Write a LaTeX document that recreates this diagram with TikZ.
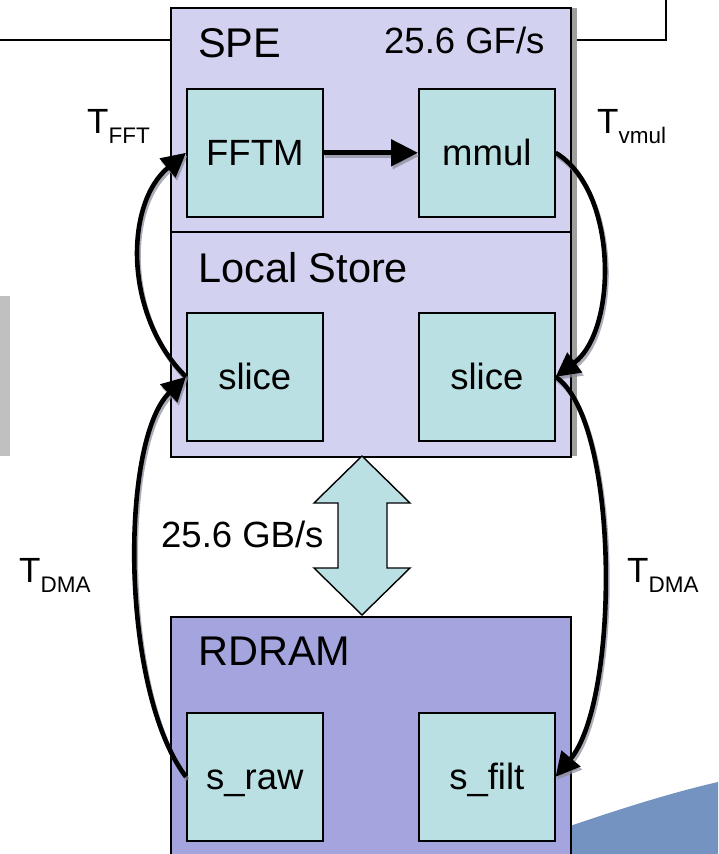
\documentclass[tikz,border=0pt]{standalone}
\usepackage{fontspec}
\setmainfont{Liberation Sans}
\usetikzlibrary{arrows.meta}
\definecolor{lav}{HTML}{D2D2F0}
\definecolor{cyanbox}{HTML}{BAE0E3}
\definecolor{rdramc}{HTML}{A4A4DF}
\definecolor{swooshc}{HTML}{7593C0}
\definecolor{barg}{HTML}{C0C0C0}
\definecolor{shadowc}{HTML}{8A8A9A}
\newcommand{\titlefnt}{\fontsize{41.5}{48}\selectfont}
\newcommand{\labfnt}{\fontsize{36.5}{42}\selectfont}
\newcommand{\tfnt}{\fontsize{35}{40}\selectfont}
\newcommand{\subfnt}{\fontsize{22.5}{26}\selectfont}
\begin{document}
\begin{tikzpicture}[x=1pt,y=-1pt,
  region/.style={draw=black,line width=1.6pt,inner sep=0pt,anchor=north west,minimum width=400pt},
  cell/.style={draw=black,line width=1.6pt,fill=cyanbox,inner sep=0pt,anchor=north west,
    minimum width=136pt,minimum height=128pt,text height=26pt,text depth=0pt,font=\labfnt},
  txt/.style={inner sep=0pt,anchor=base west},
  conn/.style={line width=4.6pt,-{Triangle[length=24pt,width=24pt]}},
  straightconn/.style={line width=5pt,-{Triangle[length=27pt,width=26pt]}},
  wire/.style={draw=black,line width=1.6pt}
]
\useasboundingbox (0,0) rectangle (718,854);

% background decoration
\fill[swooshc] (570,826) .. controls (620,809) and (670,793) .. (718,782) -- (718,854) -- (570,854) -- cycle;
\fill[barg] (0,296) rectangle (10,456);

% shadow of SPE / Local Store block
\fill[gray!75] (570,8) rectangle (577,456);

% regions
\node[region,fill=lav,minimum height=224pt] (spe) at (170,7) {};
\node[region,fill=lav,minimum height=225pt] (ls) at (170,231) {};
\node[region,fill=rdramc,minimum height=260pt] (rd) at (170,616) {};

% wires at top
\coordinate (wl) at (0,40);
\coordinate (wr) at (577,40);
\coordinate (wc) at (666,40);
\coordinate (wt) at (666,0);
\draw[wire] (wl) -- (spe.west |- wl);
\draw[wire] (wr) -- (wc) -- (wt);

% cells
\node[cell] (fftm) at (186,88) {FFTM};
\node[cell] (mmul) at (418,88) {mmul};
\node[cell] (sl1) at (186,312) {slice};
\node[cell] (sl2) at (418,312) {slice};
\node[cell] (sraw) at (186,712) {s\_raw};
\node[cell] (sfilt) at (418,712) {s\_filt};

% titles
\node[txt,font=\titlefnt] (spet) at (198,57) {SPE};
\node[txt,font=\labfnt] (gfs) at (384,53) {25.6 GF/s};
\node[txt,font=\titlefnt] (lst) at (198,282) {Local Store};
\node[txt,font=\titlefnt] (rdt) at (198,665) {RDRAM};
\node[txt,font=\labfnt] (gbs) at (161,547) {25.6 GB/s};

% double arrow (bandwidth)
\draw[line width=1.4pt,fill=cyanbox]
  (362,456) -- (410,503) -- (387,503) -- (387,568) -- (410,568) -- (362,615)
  -- (314,568) -- (338,568) -- (338,503) -- (314,503) -- cycle;

% T labels
\node[txt,font=\tfnt] (tfft) at (87,133) {T\raisebox{-10pt}{\subfnt FFT}};
\node[txt,font=\tfnt] (tvmul) at (597,133) {T\raisebox{-10pt}{\subfnt vmul}};
\node[txt,font=\tfnt] (tdma1) at (19,582) {T\raisebox{-10pt}{\subfnt DMA}};
\node[txt,font=\tfnt] (tdma2) at (627,582) {T\raisebox{-10pt}{\subfnt DMA}};

% connector shadows
\begin{scope}[transform canvas={shift={(1.5pt,-3pt)}},draw=shadowc,color=shadowc,opacity=0.7]
\draw[straightconn] (fftm.east) -- (mmul.west);
\draw[conn] (sl1.west) .. controls (124,316) and (124,204) .. (fftm.west);
\draw[conn] (sraw.west) .. controls (120,690) and (120,440) .. (sl1.west);
\draw[conn] (mmul.east) .. controls (618,190) and (618,330) .. (sl2.east);
\draw[conn] (sl2.east) .. controls (620,420) and (620,700) .. (sfilt.east);
\end{scope}

% connectors
\draw[straightconn] (fftm.east) -- (mmul.west);
\draw[conn] (sl1.west) .. controls (124,316) and (124,204) .. (fftm.west);
\draw[conn] (sraw.west) .. controls (120,690) and (120,440) .. (sl1.west);
\draw[conn] (mmul.east) .. controls (618,190) and (618,330) .. (sl2.east);
\draw[conn] (sl2.east) .. controls (620,420) and (620,700) .. (sfilt.east);
\end{tikzpicture}
\end{document}
